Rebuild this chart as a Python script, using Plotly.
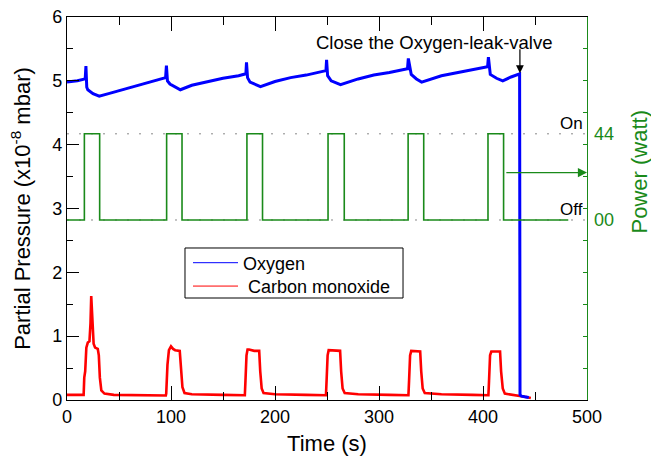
import plotly.graph_objects as go

# ---------------- data ----------------
# Oxygen partial pressure (x10^-8 mbar)
o2_t = [0, 10, 17.5, 18.2, 19.0, 20, 25, 31, 40, 55, 70, 85, 94.8,
        95.6, 96.6, 99, 104, 109, 120, 135, 150, 165, 172,
        172.6, 173.6, 176, 181, 186, 200, 215, 230, 245, 249,
        249.6, 250.6, 254, 259, 263, 280, 295, 310, 326,
        327.4, 328.2, 331, 336, 341, 360, 375, 390, 402,
        404.4, 405.2, 407, 413, 419, 427, 435.2,
        435.6, 437, 440, 444]
o2_p = [4.98, 5.00, 5.03, 5.23, 4.90, 4.86, 4.80, 4.76, 4.80, 4.87, 4.93, 5.00, 5.05,
        5.24, 5.00, 4.95, 4.91, 4.86, 4.93, 4.99, 5.04, 5.08, 5.11,
        5.29, 5.05, 4.98, 4.95, 4.91, 4.99, 5.05, 5.09, 5.14, 5.16,
        5.33, 5.08, 5.00, 4.97, 4.94, 5.03, 5.09, 5.13, 5.18,
        5.19, 5.35, 5.10, 5.03, 4.98, 5.08, 5.13, 5.17, 5.21,
        5.22, 5.37, 5.10, 5.04, 5.00, 5.06, 5.11,
        0.08, 0.06, 0.05, 0.04]

# Carbon monoxide partial pressure (x10^-8 mbar)
co_t = [0, 10, 16, 16.6, 17.5, 18.6, 20, 21.6, 22.6, 23.3, 24.2, 25.6, 27, 29.6, 30.6, 31.6, 33, 36, 45, 70, 95,
        95.4, 96.6, 98, 100, 102, 104, 108.4, 109.6, 111, 113, 120, 150, 171,
        171.6, 172.6, 173.6, 175, 180, 184.8, 185.8, 187.2, 189, 200, 230, 249,
        249.6, 250.6, 251.6, 254, 258, 262.6, 263.6, 265, 267, 280, 310, 328.3,
        328.9, 329.9, 331, 334, 338, 339.6, 340.6, 342, 344, 360, 390, 405.2,
        405.8, 406.8, 408, 411, 416.4, 417.4, 419, 421, 430, 435, 440, 446]
co_p = [0.08, 0.08, 0.08, 0.35, 0.45, 0.82, 0.90, 0.92, 1.20, 1.63, 1.20, 0.88, 0.82, 0.80, 0.70, 0.35, 0.15, 0.10, 0.08, 0.075, 0.07,
        0.10, 0.55, 0.78, 0.84, 0.80, 0.78, 0.77, 0.50, 0.20, 0.11, 0.09, 0.08, 0.075,
        0.30, 0.70, 0.79, 0.79, 0.77, 0.77, 0.45, 0.18, 0.11, 0.09, 0.08, 0.075,
        0.30, 0.70, 0.78, 0.78, 0.77, 0.77, 0.45, 0.18, 0.11, 0.09, 0.08, 0.075,
        0.30, 0.70, 0.77, 0.77, 0.76, 0.76, 0.45, 0.18, 0.11, 0.09, 0.08, 0.075,
        0.30, 0.70, 0.76, 0.76, 0.76, 0.45, 0.18, 0.10, 0.08, 0.07, 0.05, 0.03]

# Power (watt), on/off steps
power_t = [0, 16.7, 31.4, 95.8, 110.6, 173, 188, 251, 266.6, 328, 343, 404.8, 419.8, 482]
power_w = [0, 44, 0, 44, 0, 44, 0, 44, 0, 44, 0, 44, 0, 0]

power_on = 44
power_off = 0
on_level_left = 4.17    # left-axis height of the "On" level
off_level_left = 2.82   # left-axis height of the "Off" level
arrow_power = 24.2      # power value where the axis arrow points
valve_time = 435.5
valve_head = 5.12
valve_tail = 5.52

x_tickvals = [0, 100, 200, 300, 400, 500]
y_tickvals = [0, 1, 2, 3, 4, 5, 6]

# ---------------- figure ----------------
FONT = "Liberation Sans, Arial, sans-serif"
GREEN = "#1a8a1a"

slope = (power_on - power_off) / (on_level_left - off_level_left)
y2_range = [power_off - off_level_left * slope, power_off + (6 - off_level_left) * slope]

fig = go.Figure()
fig.add_trace(go.Scatter(x=power_t, y=power_w, yaxis="y2", mode="lines",
                         line=dict(color=GREEN, width=1.6, shape="hv"),
                         showlegend=False, hoverinfo="skip"))
fig.add_trace(go.Scatter(x=co_t, y=co_p, mode="lines",
                         line=dict(color="#ff0000", width=2.6),
                         showlegend=False))
fig.add_trace(go.Scatter(x=o2_t, y=o2_p, mode="lines",
                         line=dict(color="#0000ff", width=3),
                         showlegend=False))
# legend entries (thin lines), one per legend so rows can sit close together
fig.add_trace(go.Scatter(x=[None], y=[None], mode="lines", name="Oxygen",
                         line=dict(color="#0000ff", width=1), legend="legend"))
fig.add_trace(go.Scatter(x=[None], y=[None], mode="lines", name="\u00a0Carbon monoxide",
                         line=dict(color="#ff0000", width=1), legend="legend2"))
# empty trace so that the green right-hand axis (ticks only) is drawn
fig.add_trace(go.Scatter(x=[None], y=[None], yaxis="y3", mode="lines",
                         showlegend=False, hoverinfo="skip"))

legend_style = dict(xanchor="left", yanchor="top", borderwidth=0,
                    bgcolor="rgba(0,0,0,0)", font=dict(size=18), itemwidth=45)

fig.update_layout(
    width=651, height=456,
    margin=dict(l=67, r=64, t=17, b=56),
    paper_bgcolor="white", plot_bgcolor="white",
    font=dict(family=FONT, size=18, color="black"),
    showlegend=True,
    legend=dict(x=0.2327, y=0.406, **legend_style),
    legend2=dict(x=0.2327, y=0.345, **legend_style),
    xaxis=dict(range=[0, 500], tickvals=x_tickvals, ticks="inside", ticklen=14,
               tickcolor="black", showline=True, linecolor="black", linewidth=1.2,
               mirror="ticks", showgrid=False, zeroline=False, automargin=False,
               minor=dict(dtick=50, tick0=0, ticks="inside", ticklen=8, tickcolor="black", showgrid=False),
               title=dict(text="Time (s)", font=dict(size=22), standoff=13)),
    yaxis=dict(range=[0, 6], tickvals=y_tickvals, ticks="inside", ticklen=12,
               tickcolor="black", showline=True, linecolor="black", linewidth=1.2,
               mirror=False, showgrid=False, zeroline=False, automargin=False,
               minor=dict(dtick=0.5, tick0=0, ticks="inside", ticklen=6, tickcolor="black", showgrid=False),
               title=dict(text="Partial Pressure (x10<sup>-8</sup> mbar)", font=dict(size=22), standoff=15)),
    yaxis2=dict(range=y2_range, overlaying="y", side="right", anchor="x",
                tickvals=[power_off, power_on], ticktext=["00", "44"],
                ticks="", showline=False, showgrid=False, zeroline=False, automargin=False,
                ticklabelstandoff=6, tickfont=dict(color=GREEN, size=18)),
    yaxis3=dict(range=[0, 6], overlaying="y", side="right", anchor="x",
                dtick=0.5, tick0=0, ticks="inside", ticklen=4, tickcolor=GREEN,
                showticklabels=False, showline=True, linecolor=GREEN, linewidth=1.2,
                showgrid=False, zeroline=False, automargin=False),
)

# legend frame
fig.add_shape(type="rect", xref="paper", yref="paper", x0=0.2269, x1=0.6462, y0=0.2663, y1=0.3969,
              line=dict(color="black", width=1), fillcolor="rgba(0,0,0,0)")

# dotted On / Off levels
for lvl in (power_on, power_off):
    fig.add_shape(type="line", xref="x", yref="y2", x0=0, x1=500, y0=lvl, y1=lvl,
                  line=dict(color="#888888", width=1, dash="2px,10px"), layer="below")

# On / Off labels
fig.add_annotation(x=500, y=power_on, xref="x", yref="y2", text="On", showarrow=False,
                   xanchor="right", yanchor="bottom", xshift=-2, yshift=-1,
                   font=dict(size=17, color="black"))
fig.add_annotation(x=500, y=power_off, xref="x", yref="y2", text="Off", showarrow=False,
                   xanchor="right", yanchor="bottom", xshift=-2, yshift=-1,
                   font=dict(size=17, color="black"))

# arrow pointing to the power axis
fig.add_annotation(x=500, y=arrow_power, xref="x", yref="y2",
                   ax=421, ay=arrow_power, axref="x", ayref="y2",
                   text="", showarrow=True, arrowhead=2, arrowsize=1.3, arrowwidth=1.4,
                   arrowcolor=GREEN, standoff=0)

# valve annotation
fig.add_annotation(x=valve_time, y=valve_head, xref="x", yref="y",
                   ax=valve_time, ay=valve_tail, axref="x", ayref="y",
                   text="", showarrow=True, arrowhead=2, arrowsize=1.3, arrowwidth=1.2,
                   arrowcolor="black", standoff=0)
fig.add_annotation(x=353, y=5.6, xref="x", yref="y", text="Close the Oxygen-leak-valve",
                   showarrow=False, xanchor="center", yanchor="middle",
                   font=dict(size=18.5, color="black"))

# right axis title
fig.add_annotation(x=1.1, y=0.594, xref="paper", yref="paper", text="Power (watt)",
                   textangle=-90, showarrow=False, xanchor="center", yanchor="middle",
                   font=dict(size=22, color=GREEN))

fig.write_html("out.html", config={"displayModeBar": False},
               post_script="document.body.style.margin='0';")
